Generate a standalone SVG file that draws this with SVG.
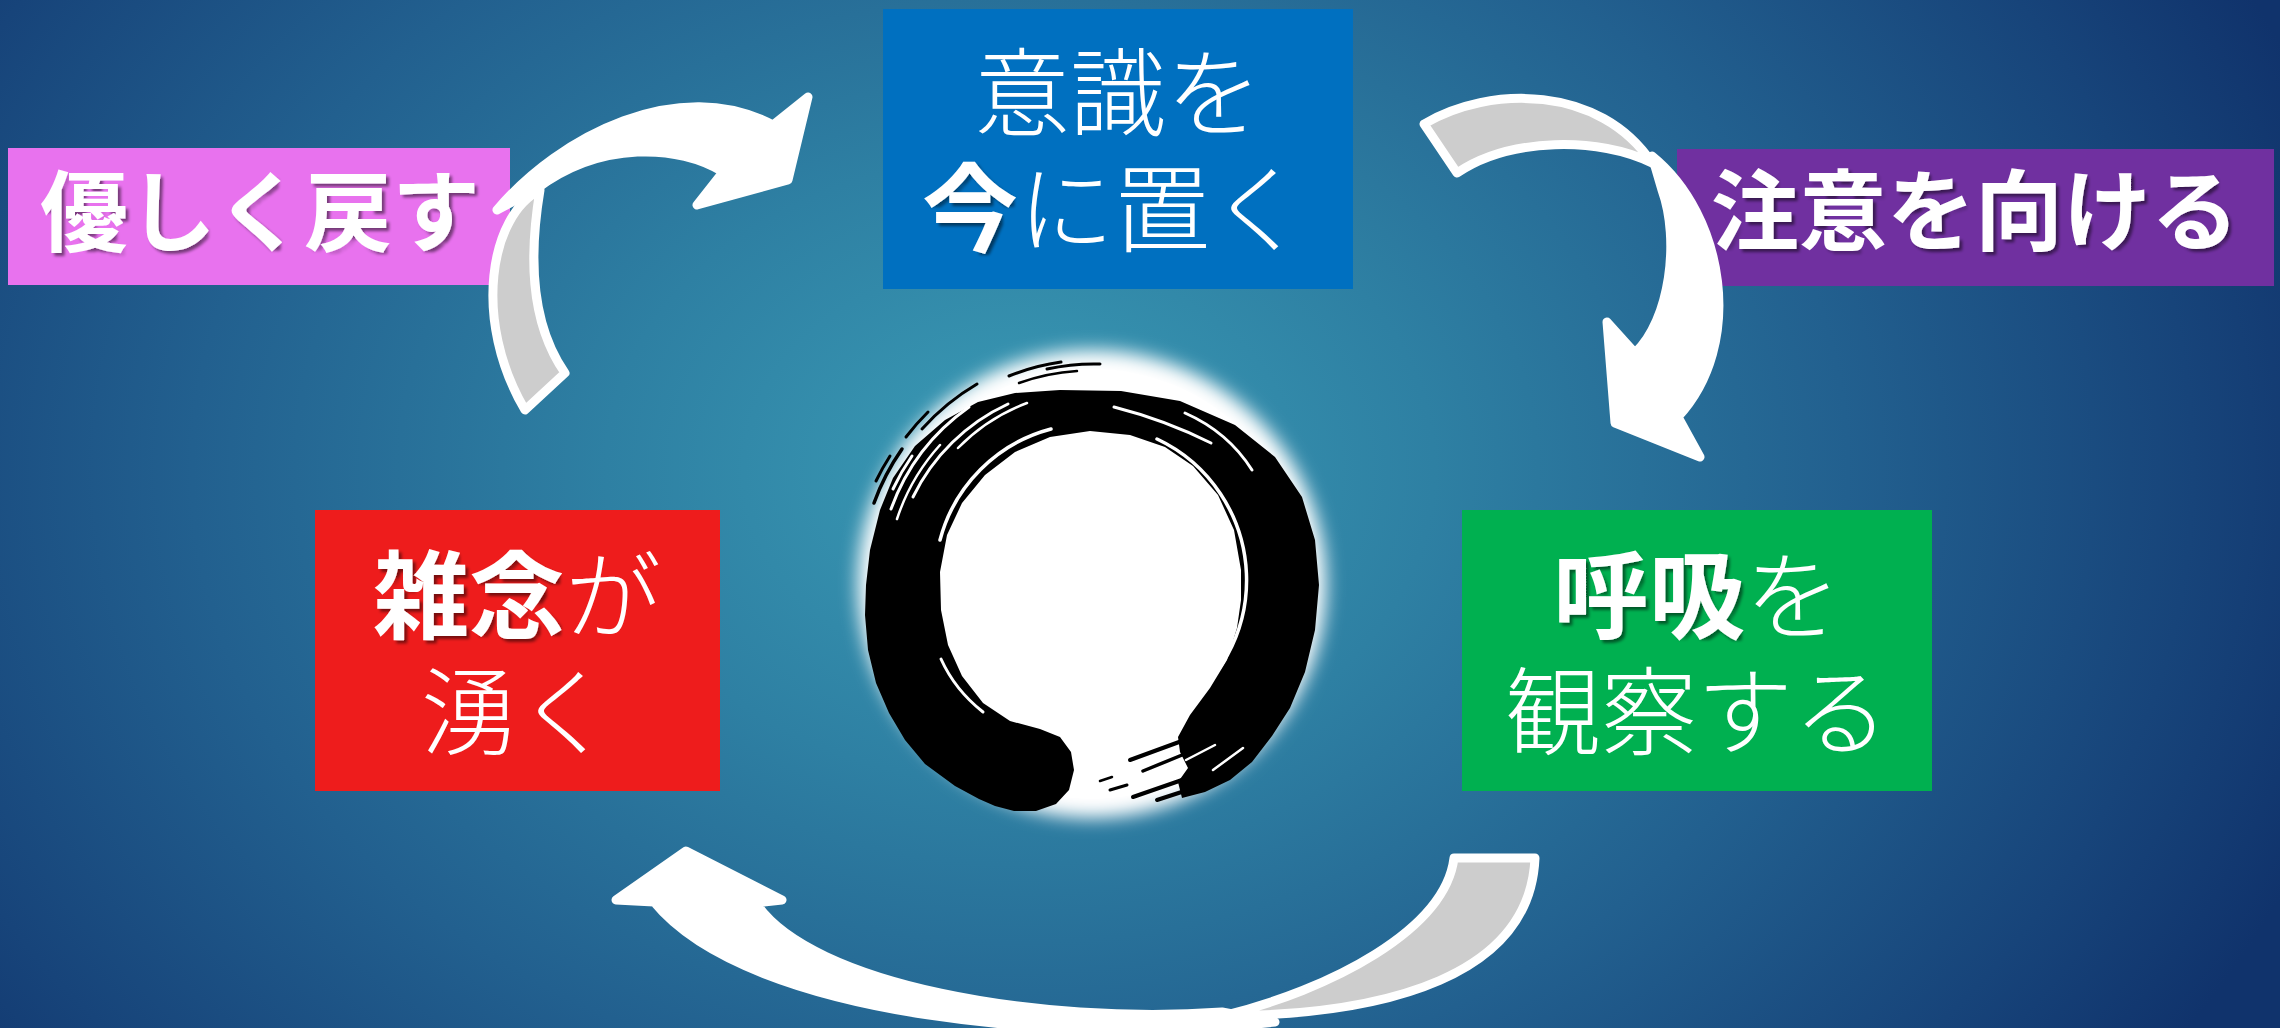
<svg xmlns="http://www.w3.org/2000/svg" width="2280" height="1028" viewBox="0 0 2280 1028">
  <defs>
    <radialGradient id="bgGrad" gradientUnits="userSpaceOnUse" cx="0" cy="0" r="1" gradientTransform="translate(1020,470) scale(1380,1050)">
      <stop offset="0" stop-color="#3a9bb5"/>
      <stop offset="0.3" stop-color="#2e80a3"/>
      <stop offset="0.6" stop-color="#22608f"/>
      <stop offset="0.85" stop-color="#17447a"/>
      <stop offset="1" stop-color="#10336c"/>
    </radialGradient>
    <!-- drop shadow only under heavy strokes: thin glyphs vanish in the opening step -->
    <filter id="boldShadow" x="-5%" y="-10%" width="115%" height="125%">
      <feMorphology in="SourceAlpha" operator="erode" radius="3.5" result="thinOut"/>
      <feMorphology in="thinOut" operator="dilate" radius="3.5" result="heavy"/>
      <feGaussianBlur in="heavy" stdDeviation="1.8" result="soft"/>
      <feOffset in="soft" dx="3" dy="3" result="moved"/>
      <feComponentTransfer in="moved" result="shadow">
        <feFuncA type="linear" slope="0.5"/>
      </feComponentTransfer>
      <feMerge>
        <feMergeNode in="shadow"/>
        <feMergeNode in="SourceGraphic"/>
      </feMerge>
    </filter>
    <filter id="glow" x="-30%" y="-30%" width="160%" height="160%">
      <feGaussianBlur stdDeviation="9"/>
    </filter>
    <style>
      .t { font-family: "Noto Sans CJK JP", "Noto Sans", sans-serif; fill: #ffffff; }
      .big { font-size: 96px; }
      .lbl { font-size: 88px; }
      .reg { font-weight: 300; }
      .bold { font-weight: 700; }
      .body { fill: #ffffff; stroke: #ffffff; stroke-width: 9; stroke-linejoin: round; }
      .shade { fill: #cdcdcd; stroke: #ffffff; stroke-width: 9; stroke-linejoin: round; }
      .ink { fill: none; stroke: #000000; stroke-linecap: round; }
      .dry { fill: none; stroke: #ffffff; stroke-linecap: round; }
    </style>
  </defs>

  <!-- background -->
  <rect x="0" y="0" width="2280" height="1028" fill="url(#bgGrad)"/>

  <!-- central enso -->
  <g id="enso">
    <circle cx="1092" cy="584" r="234" fill="#ffffff" filter="url(#glow)"/>
    <circle cx="1092" cy="584" r="215" fill="#ffffff"/>
    <polygon fill="#000000" points="1014,811 995,806 979,799 955,786 925,764 905,740 889,713 876,683 868,650 865,615 866,585 870,550 880,510 893,478 915,446 945,420 978,402 1015,393 1060,390 1121,391 1180,401 1235,425 1275,457 1302,497 1315,540 1319,585 1315,630 1305,672 1290,708 1272,736 1252,762 1230,780 1205,792 1182,798 1178,782 1188,768 1180,752 1178,737 1190,715 1210,688 1227,660 1237,628 1241,600 1241,570 1234,530 1218,495 1193,466 1165,447 1130,435 1090,431 1050,437 1015,452 985,475 962,503 947,535 940,572 941,610 948,645 962,676 983,703 1010,721 1040,729 1060,737 1071,752 1074,770 1069,790 1056,804 1036,811"/>
    <!-- dry-brush gaps inside the stroke -->
    <path class="dry" stroke-width="3.5" d="M1157,439 A156,156 0 0 1 1169,715"/>
    <path class="dry" stroke-width="3.5" d="M940,540 A156,156 0 0 1 1051,429"/>
    <path class="dry" stroke-width="3" d="M891,509 A214,214 0 0 1 969,407"/>
    <path class="dry" stroke-width="3" d="M913,497 A198,198 0 0 1 1008,404"/>
    <path class="dry" stroke-width="2.5" d="M897,519 A205,205 0 0 1 940,445"/>
    <path class="dry" stroke-width="3" d="M893,489 A220,220 0 0 1 912,456"/>
    <path class="dry" stroke-width="2.5" d="M958,448 A190,190 0 0 1 1027,403"/>
    <path class="dry" stroke-width="3" d="M1114,407 Q1165,420 1211,443"/>
    <path class="dry" stroke-width="3" d="M1185,413 Q1228,432 1252,470"/>
    <path class="dry" stroke-width="3" d="M941,659 Q955,690 983,712"/>
    <path class="dry" stroke-width="2.5" d="M958,652 Q972,680 995,700"/>
    <path class="dry" stroke-width="2.5" d="M1213,770 L1243,748"/>
    <path class="dry" stroke-width="2.5" d="M1186,760 L1215,745"/>
    <!-- loose bristle marks around the rim -->
    <path class="ink" stroke-width="3.5" d="M874,503 A232,232 0 0 1 902,449"/>
    <path class="ink" stroke-width="3" d="M876,481 A238,238 0 0 1 890,456"/>
    <path class="ink" stroke-width="3" d="M906,437 A236,236 0 0 1 928,412"/>
    <path class="ink" stroke-width="3" d="M922,429 A229,229 0 0 1 977,384"/>
    <path class="ink" stroke-width="3" d="M1009,376 A222,222 0 0 1 1061,362"/>
    <path class="ink" stroke-width="3" d="M1047,369 A218,218 0 0 1 1100,364"/>
    <path class="ink" stroke-width="2.5" d="M1019,383 A212,212 0 0 1 1077,371"/>
    <path class="ink" stroke-width="4" d="M1130,760 L1190,738"/>
    <path class="ink" stroke-width="3.5" d="M1143,771 L1187,753"/>
    <path class="ink" stroke-width="4" d="M1133,797 L1182,780"/>
    <path class="ink" stroke-width="4" d="M1157,800 L1197,787"/>
    <path class="ink" stroke-width="3" d="M1110,790 L1127,785"/>
    <path class="ink" stroke-width="2.5" d="M1100,781 L1112,777"/>
  </g>

  <!-- step boxes -->
  <g id="node-ishiki">
    <rect x="883" y="9" width="470" height="280" fill="#0070c0"/>
    <text class="t big" filter="url(#boldShadow)"><tspan class="reg" x="1118" y="128" text-anchor="middle">意識を</tspan><tspan class="bold" x="922" y="244">今</tspan><tspan class="reg">に置く</tspan></text>
  </g>

  <g id="node-kokyu">
    <rect x="1462" y="510" width="470" height="281" fill="#00b050"/>
    <text class="t big" filter="url(#boldShadow)"><tspan class="bold" x="1553" y="631">呼吸</tspan><tspan class="reg">を</tspan><tspan class="reg" x="1697" y="747" text-anchor="middle">観察する</tspan></text>
  </g>

  <g id="node-zatsunen">
    <rect x="315" y="510" width="405" height="281" fill="#ee1c1c"/>
    <text class="t big" filter="url(#boldShadow)"><tspan class="bold" x="373" y="631">雑念</tspan><tspan class="reg">が</tspan><tspan class="reg" x="517" y="747" text-anchor="middle">湧く</tspan></text>
  </g>

  <g id="label-chui">
    <rect x="1677" y="149" width="597" height="137" fill="#7030a0"/>
    <text class="t lbl bold" x="1975" y="243" text-anchor="middle" filter="url(#boldShadow)">注意を向ける</text>
  </g>

  <g id="label-modosu">
    <rect x="8" y="148" width="502" height="137" fill="#e872ee"/>
    <text class="t lbl bold" x="260" y="244" text-anchor="middle" filter="url(#boldShadow)">優しく戻す</text>
  </g>

  <!-- curved ribbon arrows -->
  <g id="connectors">
    <g id="arrow-return">
      <path class="body" d="M497,210 C560,135 680,75 773,125 L808,97 L788,180 L697,205 L723,172 C680,145 600,140 535,190 Z"/>
      <path class="shade" d="M540,190 C490,215 472,320 525,410 L565,373 C528,320 530,250 540,190 Z"/>
    </g>
    <g id="arrow-attend">
      <path class="body" d="M1652,156 C1725,215 1745,345 1678,417 L1700,457 L1615,423 L1607,322 L1635,353 C1670,320 1680,240 1662,190 Z"/>
      <path class="shade" d="M1424,124 C1490,85 1600,85 1652,163 C1600,137 1510,137 1457,173 Z"/>
    </g>
    <g id="arrow-wander">
      <path class="body" d="M1222,1012 L1275,1022 C1080,1045 750,1020 654,902 L616,900 L686,851 L782,900 L756,903 C810,985 1040,1025 1222,1012 Z"/>
      <path class="shade" d="M1454,858 L1535,858 C1530,975 1390,1015 1222,1016 C1330,990 1445,930 1454,858 Z"/>
    </g>
  </g>
</svg>
